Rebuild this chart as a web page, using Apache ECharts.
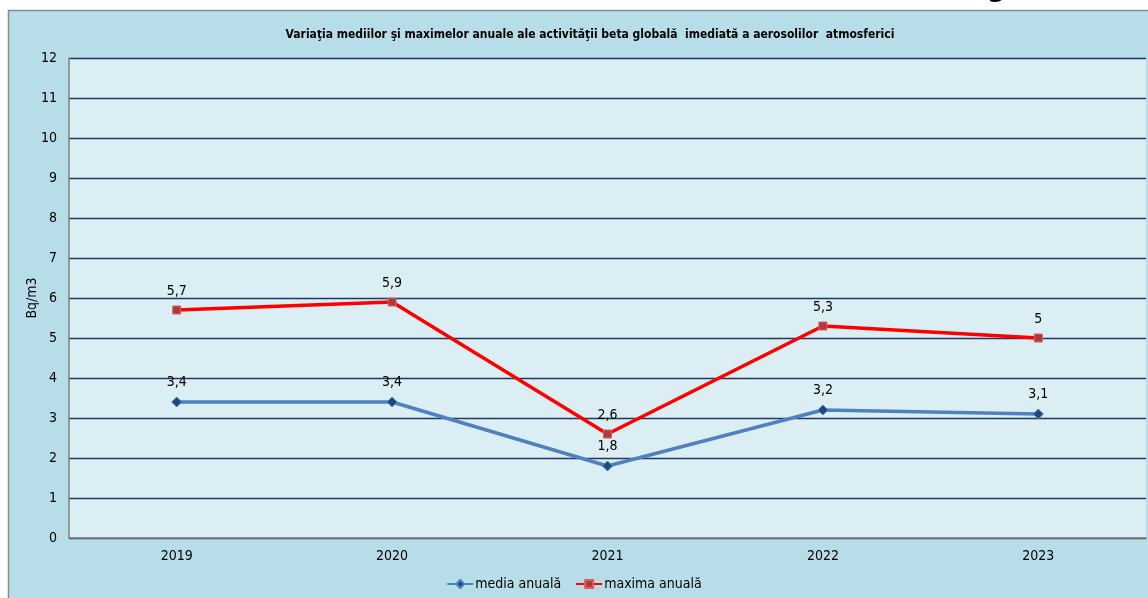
<!DOCTYPE html>
<html>
<head>
<meta charset="utf-8">
<script src="https://cdn.jsdelivr.net/npm/echarts@6/dist/echarts.min.js"></script>
<style>
html,body{margin:0;padding:0;background:#ffffff;}
#c{position:absolute;left:0;top:0;width:1148px;height:598px;}
</style>
</head>
<body>
<div id="c"></div>
<script>
const categories = ['2019', '2020', '2021', '2022', '2023'];
const mediaAnuala = [3.4, 3.4, 1.8, 3.2, 3.1];
const maximaAnuala = [5.7, 5.9, 2.6, 5.3, 5];
const yTicks = [0, 1, 2, 3, 4, 5, 6, 7, 8, 9, 10, 11, 12];

const FONT = '"DejaVu Sans Condensed", "Liberation Sans Narrow", "DejaVu Sans", sans-serif';
const chart = echarts.init(document.getElementById('c'), null, {renderer: 'canvas'});
const fmt = v => String(v).replace('.', ',');

chart.setOption({
  backgroundColor: '#ffffff',
  animation: false,
  textStyle: {fontFamily: FONT},
  graphic: [
    {type: 'rect', z: -10, shape: {x: 8.5, y: 10.5, width: 1145, height: 600},
     style: {fill: '#b7dde8', stroke: '#8c8c8c', lineWidth: 1.5}},
    {type: 'text', left: 987, top: -27, z: 5,
     style: {text: 'g', font: 'bold 30px ' + FONT, fill: '#000000'}}
  ],
  title: {
    text: 'Variaţia mediilor şi maximelor anuale ale activităţii beta globală  imediată a aerosolilor  atmosferici',
    left: 585, top: 24, textAlign: 'center',
    textStyle: {fontSize: 12, fontWeight: 'bold', color: '#000000', fontFamily: FONT}
  },
  legend: {
    bottom: 2, left: 'center',
    itemWidth: 26, itemHeight: 10, itemGap: 14,
    textStyle: {fontSize: 14, color: '#000000', fontFamily: FONT, padding: [0, 0, 0, -3]},
    data: ['media anuală', 'maxima anuală']
  },
  grid: {left: 69, right: 2, top: 58, bottom: 60, show: true, backgroundColor: '#dbeef3', borderWidth: 0},
  xAxis: {
    type: 'category', data: categories, boundaryGap: true,
    axisLine: {lineStyle: {color: '#808080', width: 1.5}},
    axisTick: {show: false},
    axisLabel: {fontSize: 14, color: '#000000', margin: 11, fontFamily: FONT}
  },
  yAxis: {
    type: 'value', min: yTicks[0], max: yTicks[yTicks.length - 1], interval: 1,
    name: 'Bq/m3', nameLocation: 'middle', nameGap: 30, nameRotate: 90,
    nameMoveOverlap: false,
    nameTextStyle: {fontSize: 14, color: '#000000', fontFamily: FONT},
    axisLine: {show: true, lineStyle: {color: '#808080', width: 1.5}},
    axisTick: {show: false},
    axisLabel: {fontSize: 14, color: '#000000', margin: 12, fontFamily: FONT},
    splitLine: {lineStyle: {color: '#1f3864', width: 1.3}}
  },
  series: [
    {
      name: 'media anuală', type: 'line', data: mediaAnuala,
      symbol: 'diamond', symbolSize: 10,
      lineStyle: {color: '#4f81bd', width: 3.5},
      itemStyle: {color: '#1f497d', borderColor: '#4f81bd', borderWidth: 1},
      label: {show: true, position: 'top', distance: 7, fontSize: 14, color: '#000000',
               fontFamily: FONT, formatter: p => fmt(p.value)}
    },
    {
      name: 'maxima anuală', type: 'line', data: maximaAnuala,
      symbol: 'rect', symbolSize: 8,
      lineStyle: {color: '#ff0000', width: 3.5},
      itemStyle: {color: '#b03a3a', borderColor: '#d86060', borderWidth: 1},
      label: {show: true, position: 'top', distance: 7, fontSize: 14, color: '#000000',
               fontFamily: FONT, formatter: p => fmt(p.value)}
    }
  ]
});
</script>
</body>
</html>
